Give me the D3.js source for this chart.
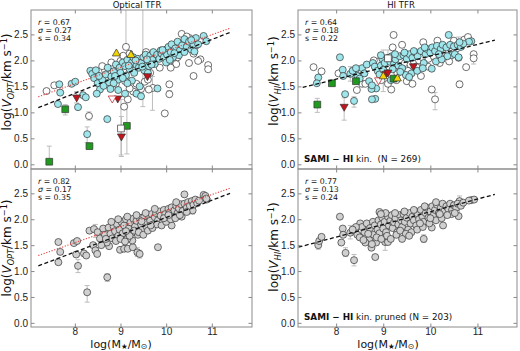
<!DOCTYPE html>
<html>
<head>
<meta charset="utf-8">
<script src="https://cdn.jsdelivr.net/npm/d3@7"></script>
<style>
  body { margin: 0; background: #fff; }
  svg { display: block; font-family: "DejaVu Sans", sans-serif; }
</style>
</head>
<body>
<div id="chart"></div>
<script>
// ---- data: [log M*, log V] ----
const tlCyan = [
  [7.66,1.54],[7.68,1.38],[7.63,1.16],[7.93,1.55],[8.01,1.59],[8.18,1.33],[8.24,1.29],[8.07,1.10],[8.27,0.58],[8.71,0.87],
  [8.34,1.80],[8.38,1.74],[8.42,1.66],[8.46,1.81],[8.50,1.56],[8.55,1.44],[8.48,1.36],[8.60,1.63],[8.63,1.51],[8.68,1.73],
  [8.75,1.58],[8.80,1.69],[8.72,1.86],[8.85,1.79],[8.90,1.92],[8.95,1.63],[8.98,1.86],[9.00,1.76],[9.05,1.96],[9.10,1.89],
  [9.12,1.71],[9.15,2.01],[9.20,1.83],[9.25,1.96],[9.28,2.06],[9.30,1.76],[9.35,1.91],[9.38,2.03],[9.40,1.86],[9.42,1.50],
  [9.45,1.96],[9.50,2.06],[9.52,1.81],[9.55,2.11],[9.60,1.96],[9.62,1.89],[9.65,2.09],[9.70,2.01],[9.72,2.16],[9.75,1.93],
  [9.80,2.11],[9.85,2.03],[9.88,2.19],[9.90,2.13],[9.95,2.06],[10.00,2.21],[10.02,2.11],[10.05,2.26],[10.10,2.16],[10.12,2.31],
  [10.15,2.06],[10.20,2.23],[10.25,2.36],[10.30,2.19],[10.35,2.29],[10.40,2.41],[10.45,2.26],[10.50,2.36],[10.55,2.21],[10.60,2.31],
  [10.65,2.43],[10.82,2.47],[10.88,2.37],[9.81,1.46],[9.25,1.61],[9.10,1.36],[9.35,1.36],[9.15,1.56],[8.95,1.43],[9.45,1.31],
  [10.28,2.10],[10.40,2.16],[9.60,1.76],[9.05,1.66],[8.85,1.56],[10.00,1.96],[10.55,2.39],[10.70,2.31],[8.53,1.70],[8.78,1.45],
  [9.58,2.02],[9.68,1.92],[9.92,2.20],[10.18,2.14],[10.62,2.17],[8.88,1.70],[9.18,1.90],[9.33,2.00],[9.48,1.88],[10.08,2.01]
];
const tlWhite = [
  [7.38,1.41],[7.55,1.52],[9.12,2.26],[8.66,1.81],[8.31,0.93],[9.08,1.11],[9.16,1.25],[9.28,1.40],[10.34,2.51],[10.51,2.43],
  [10.75,2.02],[10.92,1.91],[10.92,1.83],[10.60,1.70],[10.07,1.54],[10.07,1.35],[9.97,0.98],[9.53,1.59],[9.71,1.47],[9.00,1.99],
  [9.06,2.09],[9.20,2.13],[9.30,1.93],[9.40,2.01],[9.50,1.89],[9.56,2.16],[9.60,1.63],[9.76,2.03],[9.86,1.86],[9.91,2.16],
  [10.00,2.06],[10.16,2.00],[10.22,1.93],[10.30,2.31],[10.45,2.46],[10.50,1.95],[10.60,2.13],[10.66,2.29],[10.70,1.99],[8.80,1.96],
  [8.60,1.89],[8.50,1.71],[9.35,1.55],[9.45,1.45],[9.10,1.60],[8.95,1.76],[9.20,1.46],[9.65,1.76],[10.10,1.86],[8.90,1.55],
  [9.62,1.44],[10.38,2.21],[10.25,2.06]
];
const tlGreen = [[7.44,0.05],[7.79,1.06],[8.32,0.35],[9.14,0.74]];
const tlRedDown = [[8.04,1.29],[8.94,1.27],[9.02,0.54],[9.59,1.70]];
const tlRedOpen = [[8.82,1.27]];
const tlYellow = [[8.91,2.13],[9.23,2.10]];
const tlWhiteSq = [[9.01,0.69]];
const tlErr = [[7.44,0.0,0.35],[8.27,0.42,0.72],[8.31,0.85,1.01],[9.02,0.15,0.92],[9.01,0.18,1.25],[9.14,0.20,1.32],
  [9.49,1.11,3.2],[9.70,1.04,1.69],[9.12,2.26,3.2],[7.79,0.95,1.15],[8.04,1.18,1.40],[10.07,1.30,1.42]];
const tlFit = [[7.2,1.09],[11.4,2.54]];
const tlRed = [[7.2,1.30],[11.4,2.62]];

const trCyan = [
  [8.08,2.06],[7.62,1.67],[7.59,1.56],[8.19,1.35],[8.38,1.22],[8.83,1.26],[8.85,1.46],[10.39,2.49],[10.87,2.37],[10.82,2.36],
  [8.14,1.82],[8.15,1.70],[8.30,1.74],[8.40,1.78],[8.45,1.70],[8.55,1.85],[8.60,1.75],[8.65,1.92],[8.70,1.60],[8.75,1.45],
  [8.78,1.95],[8.82,1.88],[8.88,1.80],[8.92,1.73],[8.95,1.90],[8.98,2.03],[9.03,1.95],[9.10,2.05],[9.15,1.97],[9.18,2.08],
  [9.23,1.94],[9.26,2.02],[9.32,1.90],[9.35,2.08],[9.40,1.85],[9.43,2.10],[9.50,2.03],[9.56,2.12],[9.62,2.05],[9.68,2.15],
  [9.73,2.08],[9.80,2.18],[9.86,1.95],[9.90,2.12],[9.93,2.22],[10.00,2.15],[10.04,2.25],[10.10,2.18],[10.14,2.28],[10.22,2.22],
  [10.26,2.30],[10.34,2.25],[10.42,2.30],[10.50,2.27],[10.58,2.30],[10.65,2.26],[10.70,2.32],[10.62,2.35],[10.45,2.10],[9.48,1.72],
  [9.60,1.75],[9.72,1.80],[9.84,1.85],[10.12,1.98],[10.36,2.08],[10.52,2.12],[9.25,2.12],[9.45,2.15],[8.95,2.10],[9.65,2.18],
  [8.50,1.65],[8.76,1.52],[9.16,1.62],[9.36,1.78],[10.24,2.02],[10.60,2.06],[8.35,1.80],[8.42,1.85],[9.88,2.25],[10.18,2.12],
  [8.76,1.25],[9.55,1.68],[10.03,1.84],[9.00,1.82],[9.20,1.83]
];
const trWhite = [
  [7.52,1.87],[7.69,1.79],[8.44,1.43],[9.17,1.44],[9.22,2.49],[10.03,1.44],[10.10,1.25],[10.62,1.54],[10.76,1.87],[10.92,2.12],
  [10.92,2.04],[8.05,1.75],[8.55,1.55],[8.90,1.98],[9.05,1.75],[9.12,1.88],[9.30,1.75],[9.38,1.98],[9.46,1.95],[9.53,1.80],
  [9.58,1.92],[9.65,1.98],[9.70,1.88],[9.76,2.00],[9.83,2.06],[9.96,2.03],[10.07,2.08],[10.30,2.16],[10.38,2.20],[10.46,2.18],
  [10.55,2.22],[10.72,2.40],[10.80,2.45],[10.50,2.38],[9.20,2.25],[9.40,2.30],[8.80,2.00],[9.28,1.62],[9.50,1.60],[9.62,1.55],
  [9.80,1.70],[9.95,1.88],[10.20,1.95],[10.40,1.98],[9.10,1.55],[8.62,1.55],[8.96,1.62],[9.85,2.35],[10.15,2.38],[10.60,2.05]
];
const trGreen = [[7.91,1.56],[7.60,1.15],[8.42,1.60],[9.22,1.65]];
const trRedDown = [[8.17,1.11],[9.05,1.74],[9.10,1.77],[9.64,1.89]];
const trRedOpen = [[8.90,1.62]];
const trYellow = [[9.00,1.69],[9.30,1.65]];
const trWhiteSq = [[9.10,2.04]];
const trErr = [[7.60,1.00,1.27],[8.17,0.85,1.28],[8.38,1.10,1.30],[9.00,1.40,2.20],[10.10,1.05,1.38],[10.92,1.93,2.15],
  [10.62,1.48,1.60],[9.10,1.95,2.20],[10.60,2.20,2.45],[8.30,1.60,1.88]];
const trFit = [[7.29,1.48],[11.37,2.39]];

const blGrey = [
  [7.64,1.56],[7.68,1.37],[7.64,1.17],[7.98,1.54],[8.05,1.58],[8.03,1.32],[8.07,1.10],[8.27,0.59],[8.71,0.88],[8.20,1.34],
  [8.25,1.30],[8.32,1.78],[8.42,1.81],[8.40,1.50],[8.45,1.40],[8.49,1.33],[8.60,1.59],[8.75,1.48],[8.99,1.41],[9.08,1.43],
  [9.16,1.43],[9.27,1.46],[9.37,1.36],[9.42,1.33],[9.26,1.59],[9.82,1.46],[10.12,1.88],[10.34,2.05],[10.40,2.48],[10.58,2.17],
  [10.82,2.47],[10.86,2.45],[10.89,2.38],
  [8.50,1.75],[8.55,1.63],[8.62,1.82],[8.66,1.70],[8.70,1.55],[8.74,1.84],[8.78,1.72],[8.82,1.63],[8.85,1.86],[8.88,1.77],
  [8.92,1.91],[8.95,1.68],[8.98,1.80],[9.02,1.95],[9.05,1.73],[9.08,1.88],[9.12,2.00],[9.15,1.62],[9.18,1.82],[9.22,1.94],
  [9.25,1.74],[9.28,2.01],[9.32,1.86],[9.35,1.97],[9.38,1.70],[9.42,2.03],[9.45,1.90],[9.48,1.80],[9.52,2.05],[9.55,1.93],
  [9.58,1.84],[9.62,2.06],[9.65,1.97],[9.68,2.10],[9.72,1.90],[9.75,2.04],[9.78,2.12],[9.82,1.98],[9.85,2.15],[9.88,2.07],
  [9.92,1.96],[9.95,2.18],[9.98,2.10],[10.02,2.02],[10.05,2.20],[10.08,2.13],[10.12,2.23],[10.15,2.07],[10.18,2.17],[10.22,2.26],
  [10.25,2.12],[10.28,2.21],[10.32,2.29],[10.36,2.16],[10.40,2.30],[10.45,2.22],[10.48,2.33],[10.52,2.26],[10.56,2.35],[10.60,2.28],
  [10.64,2.38],[10.68,2.31],[10.72,2.36],[10.88,2.40],
  [8.58,1.50],[8.68,1.62],[8.90,1.58],[9.00,1.62],[9.10,1.57],[9.20,1.68],[9.30,1.78],[9.40,1.75],[9.50,1.70],[9.60,1.78],
  [9.70,1.83],[9.80,1.90],[9.90,1.88],[10.00,1.95],[10.10,2.00],[10.20,2.02],[10.30,2.08],[10.45,2.14],[10.22,2.33],[9.95,2.02],
  [8.95,2.00],[9.15,2.05],[8.80,1.95],[9.35,2.08],[9.55,2.12],[9.75,2.20],[9.12,1.77],[9.46,1.96],[9.66,1.88],[10.05,2.08]
];
const blErr = [[8.27,0.40,0.72],[8.07,0.97,1.22],[8.71,0.80,0.95],[8.45,1.65,1.90],[9.37,1.28,1.45],[9.42,1.25,1.40],
  [10.58,2.10,2.30],[8.60,1.50,1.70]];
const blFit = [[7.2,1.10],[11.4,2.50]];
const blRed = [[7.2,1.30],[11.4,2.60]];

const brGrey = [
  [7.62,1.50],[7.64,1.58],[7.69,1.66],[8.08,2.05],[8.14,1.82],[8.15,1.70],[8.11,1.55],[8.20,1.35],[8.38,1.21],[8.30,1.74],
  [8.51,1.92],[8.64,1.79],[8.83,1.27],[8.92,2.14],[9.04,1.56],[9.10,1.56],[9.86,1.62],[10.03,1.84],[10.27,1.88],[10.60,2.06],
  [10.87,2.37],[10.93,2.38],[10.62,2.35],
  [8.40,1.78],[8.45,1.70],[8.55,1.85],[8.60,1.75],[8.65,1.92],[8.70,1.60],[8.72,1.83],[8.75,1.45],[8.78,1.95],[8.80,1.70],
  [8.82,1.88],[8.85,1.55],[8.88,1.80],[8.90,1.98],[8.92,1.73],[8.95,1.90],[8.98,2.03],[9.00,1.82],[9.03,1.95],[9.06,1.75],
  [9.10,2.05],[9.12,1.88],[9.15,1.97],[9.18,2.08],[9.20,1.83],[9.23,1.94],[9.26,2.02],[9.30,1.75],[9.32,1.90],[9.35,2.08],
  [9.38,1.98],[9.40,1.85],[9.43,2.10],[9.46,1.95],[9.50,2.03],[9.53,1.80],[9.56,2.12],[9.58,1.92],[9.62,2.05],[9.65,1.98],
  [9.68,2.15],[9.70,1.88],[9.73,2.08],[9.76,2.00],[9.80,2.18],[9.83,2.06],[9.86,1.95],[9.90,2.12],[9.93,2.22],[9.96,2.03],
  [10.00,2.15],[10.04,2.25],[10.07,2.08],[10.10,2.18],[10.14,2.28],[10.18,2.12],[10.22,2.22],[10.26,2.30],[10.30,2.16],[10.34,2.25],
  [10.38,2.20],[10.42,2.30],[10.46,2.18],[10.50,2.27],[10.55,2.22],[10.58,2.30],[10.65,2.26],[10.70,2.32],[10.82,2.36],[10.45,2.10],
  [8.50,1.65],[8.62,1.55],[8.68,1.72],[8.76,1.52],[8.86,1.65],[8.96,1.62],[9.08,1.68],[9.16,1.62],[9.28,1.70],[9.36,1.78],
  [9.48,1.72],[9.60,1.75],[9.72,1.80],[9.84,1.85],[9.98,1.92],[10.12,1.98],[10.24,2.02],[10.36,2.08],[10.52,2.12],[10.12,2.33],
  [9.25,2.12],[9.45,2.15],[9.05,2.12],[8.95,2.10],[9.65,2.18],[9.88,2.25],[8.58,1.60],[9.40,1.62],[9.55,1.68],[10.00,2.02],
  [8.42,1.85],[8.35,1.80],[10.20,2.10],[9.78,1.92]
];
const brErr = [[8.38,1.10,1.32],[8.20,1.28,1.45],[8.30,1.62,1.88],[9.04,1.40,1.70],[10.62,2.05,2.45],[9.86,1.55,1.70],
  [7.62,1.42,1.55]];
const brFit = [[7.2,1.46],[11.37,2.48]];

const xTicks = [8, 9, 10, 11];
const yTicks = [0.0, 0.5, 1.0, 1.5, 2.0, 2.5];

const colCyan = "#9fe6ec", colWhite = "#ffffff", colGrey = "#d0d0d0",
      colGreen = "#1f9a1f", colRed = "#c0141c", colYellow = "#f2d400";

const panels = [
  { left: 31, top: 10, w: 221, h: 159, xDom: [7.04, 11.88], yDom: [-0.09, 2.97], bottom: false,
    title: "Optical TFR", titleX: 137, stats: ["0.67", "0.27", "0.34"], sub: "OPT", ylabY: 82,
    err: tlErr, fit: tlFit, red: tlRed,
    layers: [
      { data: tlWhite, shape: "circle", fill: colWhite },
      { data: tlCyan, shape: "circle", fill: colCyan },
      { data: tlGreen, shape: "square", fill: colGreen },
      { data: tlWhiteSq, shape: "square", fill: colWhite },
      { data: tlRedDown, shape: "down", fill: colRed },
      { data: tlRedOpen, shape: "down", fill: colWhite, stroke: colRed },
      { data: tlYellow, shape: "up", fill: colYellow }
    ] },
  { left: 31, top: 169, w: 221, h: 158, xDom: [7.04, 11.88], yDom: [-0.08, 2.97], bottom: true,
    stats: ["0.82", "0.17", "0.35"], sub: "OPT", ylabY: 248, xlabX: 121,
    err: blErr, fit: blFit, red: blRed,
    layers: [{ data: blGrey, shape: "circle", fill: colGrey }] },
  { left: 298, top: 10, w: 219, h: 159, xDom: [7.19, 11.84], yDom: [-0.09, 2.97], bottom: false,
    title: "HI TFR", titleX: 401, stats: ["0.64", "0.18", "0.22"], sub: "HI", ylabY: 81,
    err: trErr, fit: trFit, sami: "  (N = 269)",
    layers: [
      { data: trWhite, shape: "circle", fill: colWhite },
      { data: trCyan, shape: "circle", fill: colCyan },
      { data: trGreen, shape: "square", fill: colGreen },
      { data: trWhiteSq, shape: "square", fill: colWhite },
      { data: trRedDown, shape: "down", fill: colRed },
      { data: trRedOpen, shape: "down", fill: colWhite, stroke: colRed },
      { data: trYellow, shape: "up", fill: colYellow }
    ] },
  { left: 298, top: 169, w: 219, h: 158, xDom: [7.19, 11.84], yDom: [-0.08, 2.97], bottom: true,
    stats: ["0.77", "0.13", "0.24"], sub: "HI", ylabY: 247, xlabX: 388,
    err: brErr, fit: brFit, sami: " pruned (N = 203)",
    layers: [{ data: brGrey, shape: "circle", fill: colGrey }] }
];

const svg = d3.select("#chart").append("svg").attr("width", 520).attr("height", 351);

panels.forEach((p, i) => drawPanel(p, i));

function drawPanel(p, i) {
  const x = d3.scaleLinear().domain(p.xDom).range([0, p.w]);
  const y = d3.scaleLinear().domain(p.yDom).range([p.h, 0]);
  const g = svg.append("g").attr("transform", `translate(${p.left},${p.top})`);

  svg.append("clipPath").attr("id", "clip" + i)
    .append("rect").attr("width", p.w).attr("height", p.h);
  const plot = g.append("g").attr("clip-path", `url(#clip${i})`);

  // error bars
  const eb = plot.append("g").attr("stroke", "#bdbdbd").attr("stroke-width", 1);
  p.err.forEach(e => {
    eb.append("line").attr("x1", x(e[0])).attr("x2", x(e[0])).attr("y1", y(e[1])).attr("y2", y(e[2]));
    [e[1], e[2]].forEach(v => eb.append("line")
      .attr("x1", x(e[0]) - 2.5).attr("x2", x(e[0]) + 2.5).attr("y1", y(v)).attr("y2", y(v)));
  });

  // markers
  p.layers.forEach(l => {
    const stroke = l.stroke || "#333";
    if (l.shape === "circle") {
      plot.append("g").selectAll("circle").data(l.data).join("circle")
        .attr("cx", d => x(d[0])).attr("cy", d => y(d[1])).attr("r", 3.5)
        .attr("fill", l.fill).attr("stroke", stroke).attr("stroke-width", 0.7);
    } else {
      const type = l.shape === "square" ? d3.symbolSquare : d3.symbolTriangle;
      const size = l.shape === "square" ? 46 : 28;
      const rot = l.shape === "down" ? 180 : 0;
      plot.append("g").selectAll("path").data(l.data).join("path")
        .attr("d", d3.symbol().type(type).size(size))
        .attr("transform", d => `translate(${x(d[0])},${y(d[1])}) rotate(${rot})`)
        .attr("fill", l.fill).attr("stroke", stroke).attr("stroke-width", 0.7);
    }
  });

  // fit lines
  const line = d3.line().x(d => x(d[0])).y(d => y(d[1]));
  if (p.red) {
    plot.append("path").attr("d", line(p.red)).attr("fill", "none")
      .attr("stroke", "#e8413c").attr("stroke-width", 1.1).attr("stroke-dasharray", "1.2,1.6");
  }
  plot.append("path").attr("d", line(p.fit)).attr("fill", "none")
    .attr("stroke", "#111").attr("stroke-width", 1.3).attr("stroke-dasharray", "4,2.5");

  // axes with inward ticks on all four sides
  const styleAxis = sel => {
    sel.select(".domain").remove();
    sel.selectAll(".tick line").attr("stroke", "#888");
    sel.selectAll(".tick text").attr("fill", "#222").style("font-size", "10px");
  };
  g.append("g").attr("transform", `translate(0,${p.h})`)
    .call(d3.axisBottom(x).tickValues(xTicks).tickSize(-3.5).tickPadding(1)
      .tickFormat(p.bottom ? d3.format("d") : ""))
    .call(styleAxis);
  g.append("g")
    .call(d3.axisTop(x).tickValues(xTicks).tickSize(-3.5).tickFormat(""))
    .call(styleAxis);
  g.append("g")
    .call(d3.axisLeft(y).tickValues(yTicks).tickSize(-3.5).tickPadding(3).tickFormat(d3.format(".1f")))
    .call(styleAxis);
  g.append("g").attr("transform", `translate(${p.w},0)`)
    .call(d3.axisRight(y).tickValues(yTicks).tickSize(-3.5).tickFormat(""))
    .call(styleAxis);

  g.append("rect").attr("width", p.w).attr("height", p.h)
    .attr("fill", "none").attr("stroke", "#8c8c8c").attr("stroke-width", 1);

  // stats text
  const st = g.append("g").style("font-size", "7.8px").attr("fill", "#111");
  const s1 = st.append("text").attr("x", 7).attr("y", 14.5);
  s1.append("tspan").style("font-style", "italic").text("r");
  s1.append("tspan").text(" = " + p.stats[0]);
  const s2 = st.append("text").attr("x", 7).attr("y", 22.5);
  s2.append("tspan").style("font-style", "italic").text("σ");
  s2.append("tspan").text(" = " + p.stats[1]);
  st.append("text").attr("x", 7).attr("y", 30.5).text("s = " + p.stats[2]);

  if (p.sami) {
    const t = g.append("text").attr("x", 6).attr("y", p.h - 7.5).style("font-size", "8.8px")
      .attr("fill", "#111").attr("xml:space", "preserve");
    t.append("tspan").style("font-weight", "bold").text("SAMI − HI");
    t.append("tspan").text(" kin." + p.sami);
  }

  if (p.title) {
    svg.append("text").attr("x", p.titleX).attr("y", 8.3).attr("text-anchor", "middle")
      .style("font-size", "8.5px").attr("fill", "#111").text(p.title);
  }

  // y label
  const yl = svg.append("text")
    .attr("transform", `translate(${p.left - 20},${p.ylabY}) rotate(-90)`)
    .attr("text-anchor", "middle").style("font-size", "12px").attr("fill", "#111");
  yl.append("tspan").text("log(");
  yl.append("tspan").style("font-style", "italic").text("V");
  yl.append("tspan").style("font-style", "italic").style("font-size", "8.2px").attr("dy", 2.5).text(p.sub);
  yl.append("tspan").attr("dy", -2.5).text("/km s");
  yl.append("tspan").style("font-size", "8.2px").attr("dy", -4.5).text("−1");
  yl.append("tspan").attr("dy", 4.5).text(")");

  // x label
  if (p.bottom) {
    const xl = svg.append("text").attr("x", p.xlabX).attr("y", 348)
      .attr("text-anchor", "middle").style("font-size", "11px").attr("fill", "#111");
    xl.append("tspan").text("log(M");
    xl.append("tspan").style("font-size", "7.5px").attr("dy", 1.2).text("★");
    xl.append("tspan").attr("dy", -1.2).text("/M");
    xl.append("tspan").style("font-size", "7.8px").attr("dy", 1.2).text("⊙");
    xl.append("tspan").attr("dy", -1.2).text(")");
  }
}
</script>
</body>
</html>
